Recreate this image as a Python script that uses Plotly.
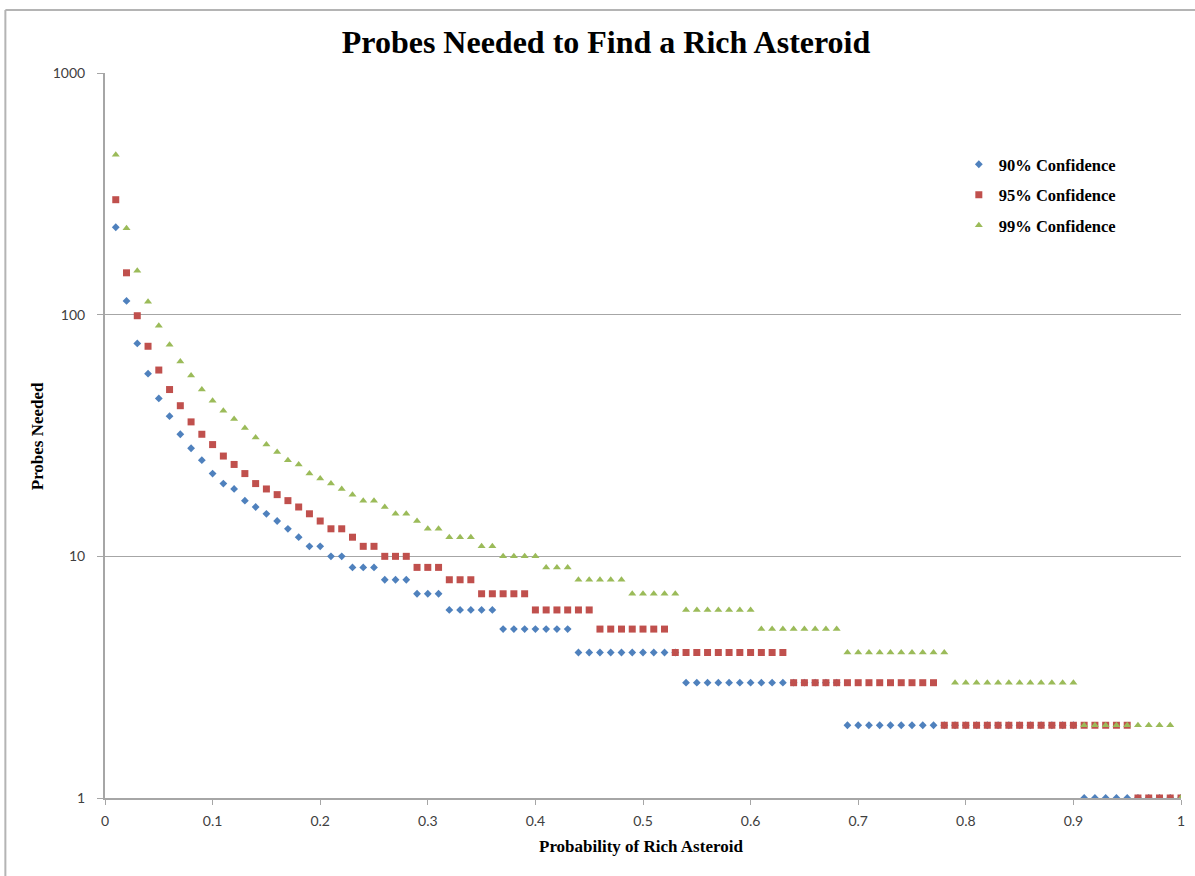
import plotly.graph_objects as go

prob = [0.01, 0.02, 0.03, 0.04, 0.05, 0.06, 0.07, 0.08, 0.09, 0.10,
        0.11, 0.12, 0.13, 0.14, 0.15, 0.16, 0.17, 0.18, 0.19, 0.20,
        0.21, 0.22, 0.23, 0.24, 0.25, 0.26, 0.27, 0.28, 0.29, 0.30,
        0.31, 0.32, 0.33, 0.34, 0.35, 0.36, 0.37, 0.38, 0.39, 0.40,
        0.41, 0.42, 0.43, 0.44, 0.45, 0.46, 0.47, 0.48, 0.49, 0.50,
        0.51, 0.52, 0.53, 0.54, 0.55, 0.56, 0.57, 0.58, 0.59, 0.60,
        0.61, 0.62, 0.63, 0.64, 0.65, 0.66, 0.67, 0.68, 0.69, 0.70,
        0.71, 0.72, 0.73, 0.74, 0.75, 0.76, 0.77, 0.78, 0.79, 0.80,
        0.81, 0.82, 0.83, 0.84, 0.85, 0.86, 0.87, 0.88, 0.89, 0.90,
        0.91, 0.92, 0.93, 0.94, 0.95, 0.96, 0.97, 0.98, 0.99, 1.00]

conf90 = [230, 114, 76, 57, 45, 38, 32, 28, 25, 22,
          20, 19, 17, 16, 15, 14, 13, 12, 11, 11,
          10, 10, 9, 9, 9, 8, 8, 8, 7, 7,
          7, 6, 6, 6, 6, 6, 5, 5, 5, 5,
          5, 5, 5, 4, 4, 4, 4, 4, 4, 4,
          4, 4, 4, 3, 3, 3, 3, 3, 3, 3,
          3, 3, 3, 3, 3, 3, 3, 3, 2, 2,
          2, 2, 2, 2, 2, 2, 2, 2, 2, 2,
          2, 2, 2, 2, 2, 2, 2, 2, 2, 2,
          1, 1, 1, 1, 1, 1, 1, 1, 1, 1]

conf95 = [299, 149, 99, 74, 59, 49, 42, 36, 32, 29,
          26, 24, 22, 20, 19, 18, 17, 16, 15, 14,
          13, 13, 12, 11, 11, 10, 10, 10, 9, 9,
          9, 8, 8, 8, 7, 7, 7, 7, 7, 6,
          6, 6, 6, 6, 6, 5, 5, 5, 5, 5,
          5, 5, 4, 4, 4, 4, 4, 4, 4, 4,
          4, 4, 4, 3, 3, 3, 3, 3, 3, 3,
          3, 3, 3, 3, 3, 3, 3, 2, 2, 2,
          2, 2, 2, 2, 2, 2, 2, 2, 2, 2,
          2, 2, 2, 2, 2, 1, 1, 1, 1, 1]

conf99 = [459, 228, 152, 113, 90, 75, 64, 56, 49, 44,
          40, 37, 34, 31, 29, 27, 25, 24, 22, 21,
          20, 19, 18, 17, 17, 16, 15, 15, 14, 13,
          13, 12, 12, 12, 11, 11, 10, 10, 10, 10,
          9, 9, 9, 8, 8, 8, 8, 8, 7, 7,
          7, 7, 7, 6, 6, 6, 6, 6, 6, 6,
          5, 5, 5, 5, 5, 5, 5, 5, 4, 4,
          4, 4, 4, 4, 4, 4, 4, 4, 3, 3,
          3, 3, 3, 3, 3, 3, 3, 3, 3, 3,
          2, 2, 2, 2, 2, 2, 2, 2, 2, 1]

series_names = ["90% Confidence", "95% Confidence", "99% Confidence"]
x_ticks = [0, 0.1, 0.2, 0.3, 0.4, 0.5, 0.6, 0.7, 0.8, 0.9, 1]
x_tick_text = ["0", "0.1", "0.2", "0.3", "0.4", "0.5", "0.6", "0.7", "0.8", "0.9", "1"]
y_ticks = [1, 10, 100, 1000]
y_tick_text = ["1", "10", "100", "1000"]

serif = "Liberation Serif"
sans = "Lato"

fig = go.Figure()
styles = [
    dict(symbol="diamond", color="#4F81BD", size=6),
    dict(symbol="square", color="#C0504D", size=7),
    dict(symbol="triangle-up", color="#9BBB59", size=7),
]
for i, (name, ys) in enumerate(zip(series_names, [conf90, conf95, conf99])):
    fig.add_trace(go.Scatter(
        x=prob, y=ys, mode="markers", name=name, legendgroup=f"g{i}",
        marker=dict(symbol=styles[i]["symbol"], color=styles[i]["color"],
                    size=styles[i]["size"], line=dict(width=0)),
    ))

fig.update_layout(
    width=1195, height=876,
    paper_bgcolor="white", plot_bgcolor="white",
    margin=dict(l=105, r=10, t=73, b=78),
    title=dict(text="<b>Probes Needed to Find a Rich Asteroid</b>",
               x=606 / 1195, xref="container", xanchor="center",
               y=1 - 42 / 876, yref="container", yanchor="middle",
               font=dict(family=serif, size=32, color="black")),
    showlegend=True,
    legend=dict(x=(962 - 105) / 1080, y=1 - (147 - 73) / 725, xanchor="left", yanchor="top",
                bgcolor="rgba(0,0,0,0)", tracegroupgap=6, itemwidth=30,
                font=dict(family=serif, size=16.5, color="black", weight="bold")),
    xaxis=dict(range=[0, 1], tickvals=x_ticks, ticktext=x_tick_text,
               showgrid=False, zeroline=False,
               showline=True, linecolor="#A6A6A6", linewidth=2,
               ticks="outside", ticklen=5, tickcolor="#A6A6A6", tickwidth=1,
               ticklabelstandoff=4,
               tickfont=dict(family=sans, size=14, color="#404040")),
    yaxis=dict(type="log", range=[0, 3], tickvals=y_ticks, ticktext=y_tick_text,
               showgrid=True, gridcolor="#A6A6A6", gridwidth=1, zeroline=False,
               showline=True, linecolor="#A6A6A6", linewidth=2,
               ticks="outside", ticklen=6, tickcolor="#A6A6A6",
               ticklabelstandoff=9,
               tickfont=dict(family=sans, size=14, color="#404040")),
    annotations=[
        dict(text="<b>Probability of Rich Asteroid</b>", xref="paper", yref="paper",
             x=(643 - 105) / 1080, y=-48 / 725, xanchor="center", yanchor="middle",
             showarrow=False, font=dict(family=serif, size=17, color="black")),
        dict(text="<b>Probes Needed</b>", xref="paper", yref="paper",
             x=-68 / 1080, y=1 - (436 - 73) / 725, xanchor="center", yanchor="middle",
             showarrow=False, textangle=-90,
             font=dict(family=serif, size=17, color="black")),
    ],
    shapes=[
        dict(type="line", xref="paper", yref="paper",
             x0=-100 / 1080, x1=-100 / 1080, y0=-0.3, y1=1 + 63 / 725,
             line=dict(color="#B4B4B4", width=2), layer="above"),
        dict(type="line", xref="paper", yref="paper",
             x0=-100 / 1080, x1=1.2, y0=1 + 63 / 725, y1=1 + 63 / 725,
             line=dict(color="#B4B4B4", width=2), layer="above"),
    ],
)

fig.write_html("out.html", config={"displayModeBar": False},
               post_script="document.body.style.margin='0';document.body.style.padding='0';")
